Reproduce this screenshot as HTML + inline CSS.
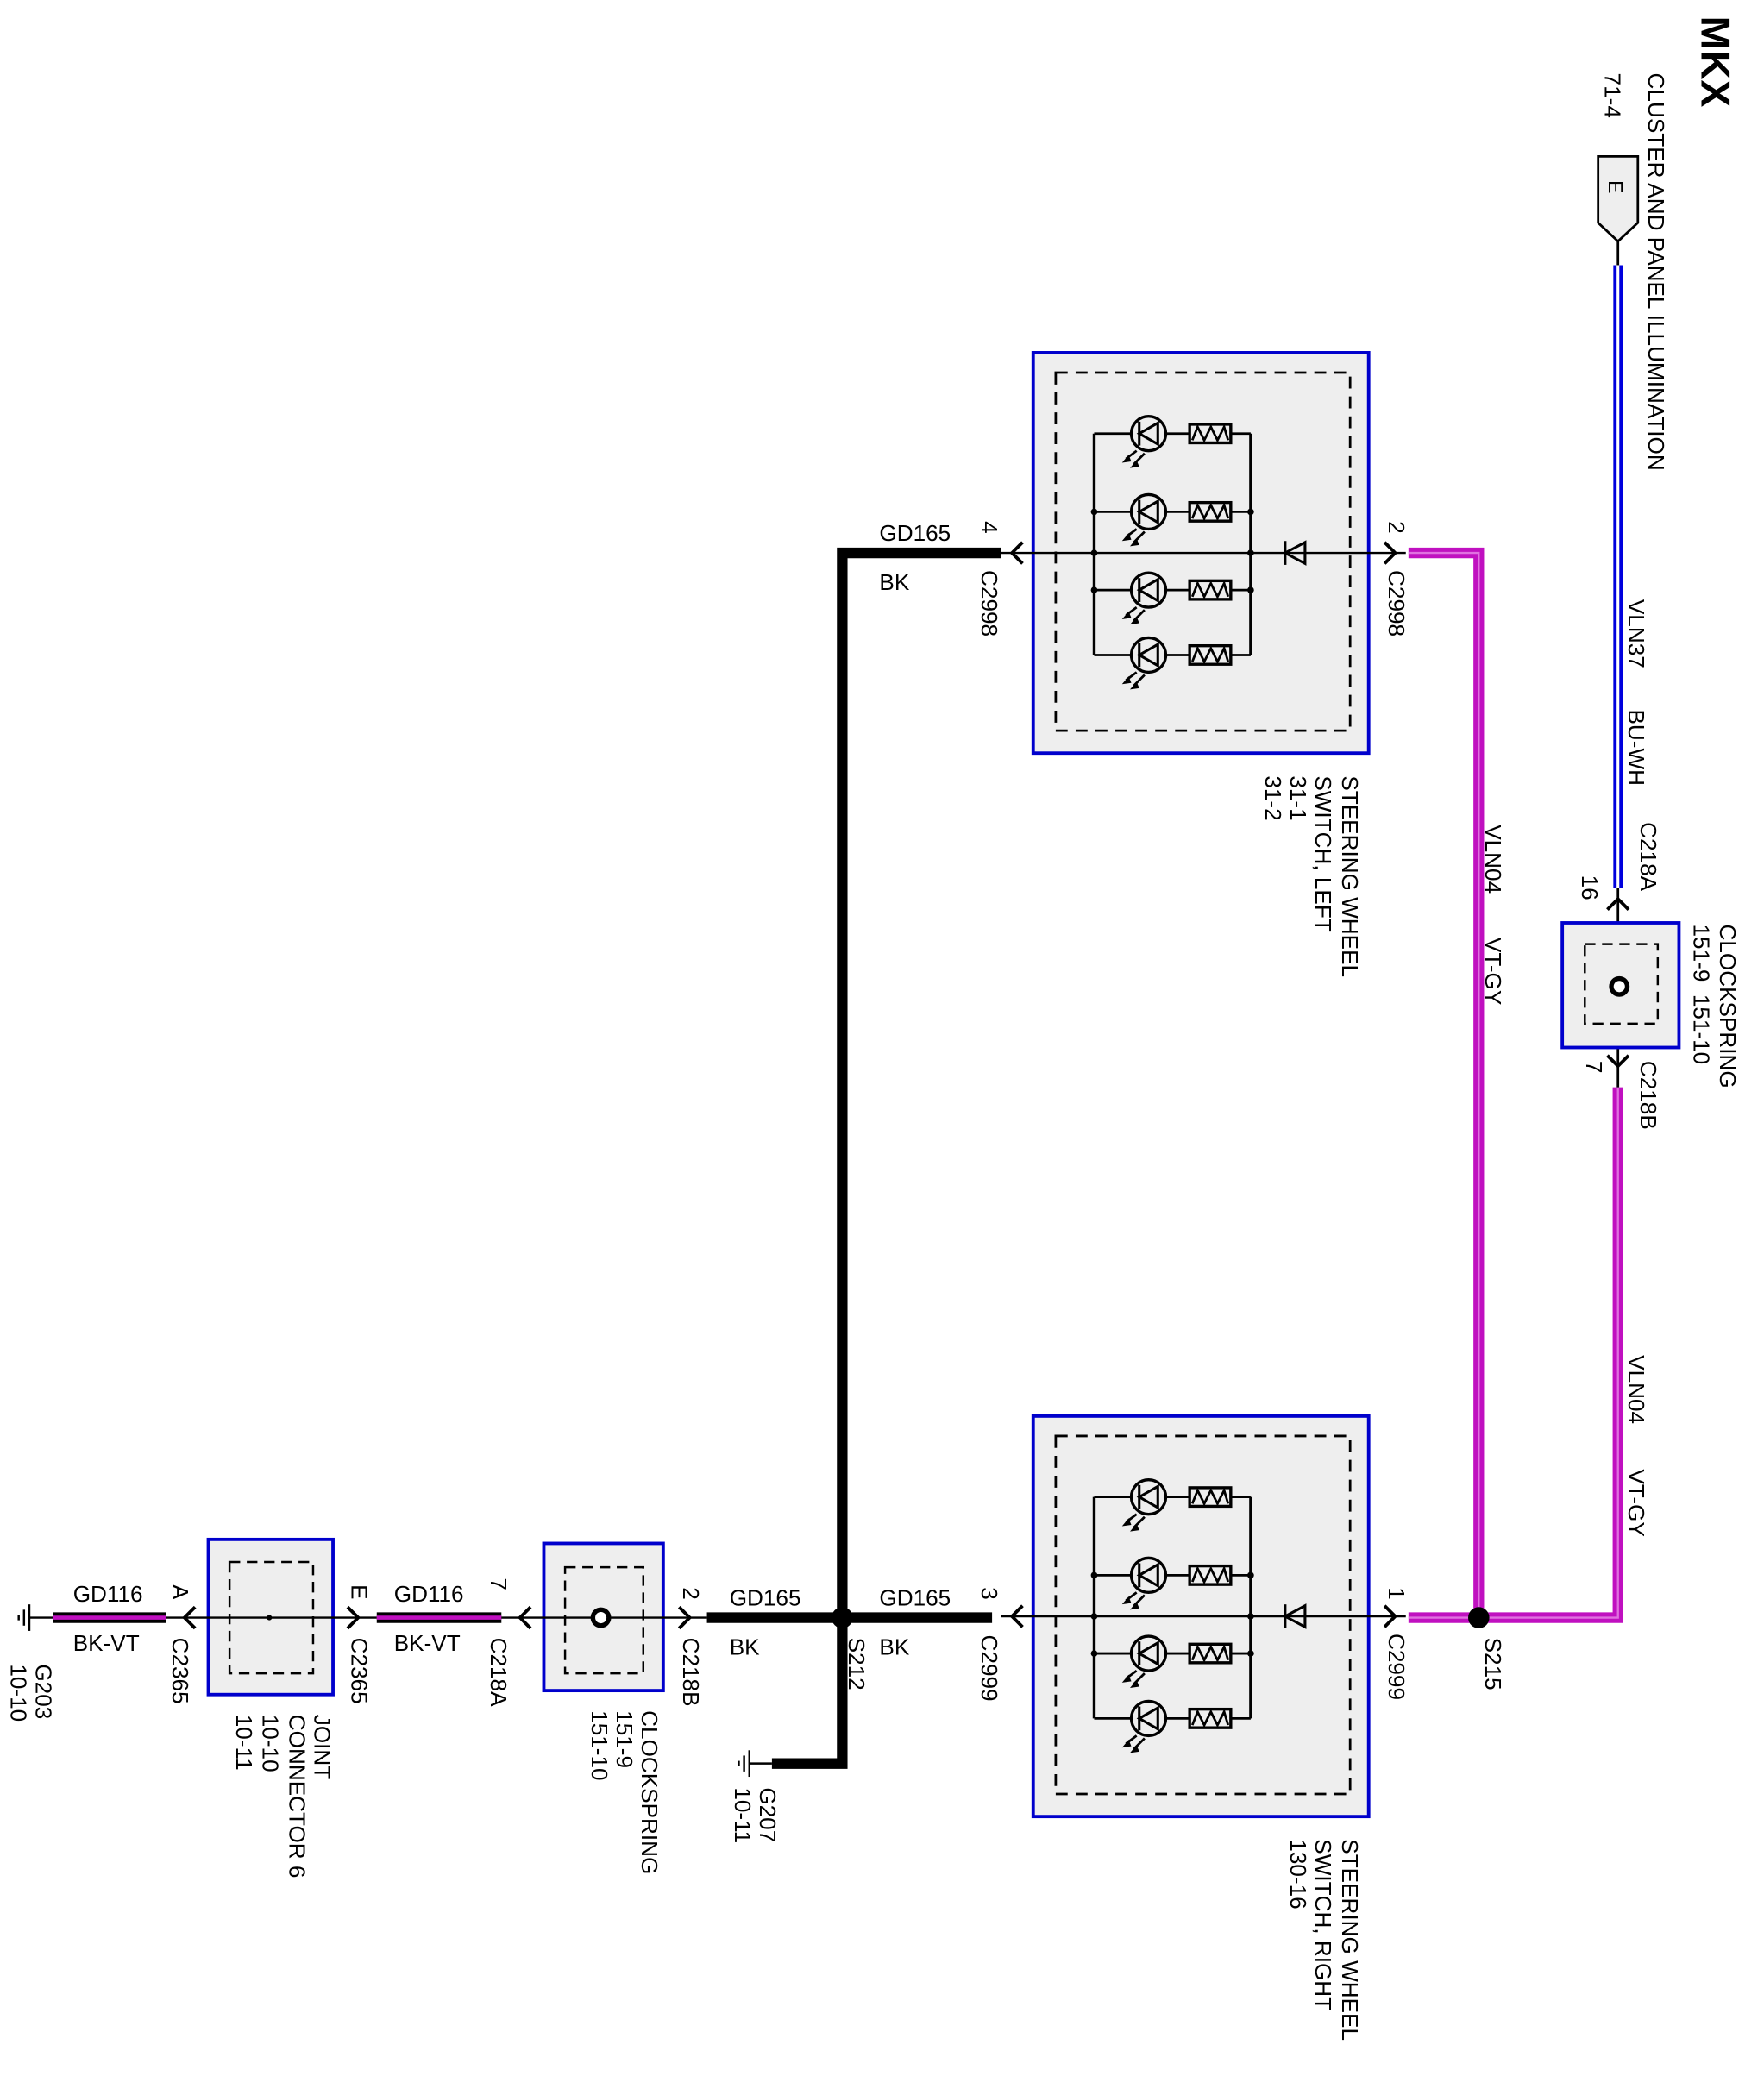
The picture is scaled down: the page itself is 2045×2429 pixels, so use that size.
<!DOCTYPE html>
<html><head><meta charset="utf-8"><style>
html,body{margin:0;padding:0;background:#fff}
svg{display:block}
text{font-family:"Liberation Sans",sans-serif;font-size:17px;fill:#000}
</style></head><body>
<svg width="2045" height="2429" viewBox="0 0 1330 1580" xmlns="http://www.w3.org/2000/svg">
<defs>
<g id="lamp">
  <line x1="0" y1="0" x2="118" y2="0" stroke="#000" stroke-width="1.8"/>
  <circle cx="41" cy="0" r="13" fill="#eee" stroke="#000" stroke-width="2.2"/>
  <polygon points="34,0 48,-8 48,8" fill="none" stroke="#000" stroke-width="2"/>
  <line x1="34" y1="-9" x2="34" y2="9" stroke="#000" stroke-width="2"/>
  <line x1="32" y1="13" x2="24" y2="19" stroke="#000" stroke-width="1.8"/>
  <line x1="38" y1="15" x2="30" y2="23" stroke="#000" stroke-width="1.8"/>
  <polygon points="21,22 26,16 28,21" fill="#000"/>
  <polygon points="27,26 32,20 34,25" fill="#000"/>
  <rect x="72" y="-7" width="31" height="14" fill="#eee" stroke="#000" stroke-width="2.2"/>
  <polyline points="74,5 78,-5 83,5 88,-5 93,5 98,-5 101,5" fill="none" stroke="#000" stroke-width="1.8"/>
</g>
<g id="sw">
  <rect x="0" y="0" width="253" height="302" fill="#eee" stroke="#0000cc" stroke-width="2.5"/>
  <rect x="17" y="15" width="222" height="270" fill="none" stroke="#000" stroke-width="1.8" stroke-dasharray="9,6"/>
  <line x1="-24" y1="151" x2="281" y2="151" stroke="#000" stroke-width="1.6"/>
  <line x1="46" y1="61" x2="46" y2="228" stroke="#000" stroke-width="2.2"/>
  <line x1="164" y1="61" x2="164" y2="228" stroke="#000" stroke-width="2.2"/>
  <use href="#lamp" transform="translate(46,61)"/>
  <use href="#lamp" transform="translate(46,120)"/>
  <use href="#lamp" transform="translate(46,179)"/>
  <use href="#lamp" transform="translate(46,228)"/>
  <circle cx="46" cy="120" r="2.5" fill="#000"/><circle cx="46" cy="151" r="2.5" fill="#000"/><circle cx="46" cy="179" r="2.5" fill="#000"/>
  <circle cx="164" cy="120" r="2.5" fill="#000"/><circle cx="164" cy="151" r="2.5" fill="#000"/><circle cx="164" cy="179" r="2.5" fill="#000"/>
  <polygon points="190,151 205,143 205,159" fill="none" stroke="#000" stroke-width="2"/>
  <line x1="190" y1="142" x2="190" y2="160" stroke="#000" stroke-width="2"/>
  <polyline points="-8,143 -16,151 -8,159" fill="none" stroke="#000" stroke-width="2.5"/>
  <polyline points="265,143 273,151 265,159" fill="none" stroke="#000" stroke-width="2.5"/>
</g>
<g id="gnd">
  <line x1="0" y1="-10" x2="0" y2="10" stroke="#000" stroke-width="1.6"/>
  <line x1="-4" y1="-6" x2="-4" y2="6" stroke="#000" stroke-width="1.6"/>
  <line x1="-8" y1="-2" x2="-8" y2="2" stroke="#000" stroke-width="1.6"/>
</g>
</defs>

<polyline points="755,417 635,417 635,1330 582,1330" fill="none" stroke="#000" stroke-width="8"/>
<line x1="533" y1="1220" x2="748" y2="1220" stroke="#000" stroke-width="8"/>
<line x1="565" y1="1330" x2="582" y2="1330" stroke="#000" stroke-width="1.6"/>
<use href="#gnd" transform="translate(565,1330)"/>

<polyline points="1062,417 1115,417 1115,1220" fill="none" stroke="#c010c0" stroke-width="8"/>
<polyline points="1062,417 1115,417 1115,1220" fill="none" stroke="#e070e0" stroke-width="1.5"/>
<polyline points="1062,1220 1220,1220 1220,820" fill="none" stroke="#c010c0" stroke-width="8"/>
<polyline points="1062,1220 1220,1220 1220,820" fill="none" stroke="#e070e0" stroke-width="1.5"/>
<line x1="1220" y1="200" x2="1220" y2="670" stroke="#0000dd" stroke-width="7"/>
<line x1="1220" y1="200" x2="1220" y2="670" stroke="#fff" stroke-width="2"/>
<line x1="1220" y1="182" x2="1220" y2="200" stroke="#000" stroke-width="1.8"/>
<line x1="1220" y1="670" x2="1220" y2="820" stroke="#000" stroke-width="1.8"/>

<polygon points="1205,118 1235,118 1235,168 1220,182 1205,168" fill="#eee" stroke="#000" stroke-width="1.8"/>
<text transform="translate(1213,136) rotate(90)" style="font-size:15px">E</text>

<rect x="1178" y="696" width="88" height="94" fill="#eee" stroke="#0000cc" stroke-width="2.5"/>
<rect x="1195" y="712" width="55" height="60" fill="none" stroke="#000" stroke-width="1.6" stroke-dasharray="8,5"/>
<circle cx="1221" cy="744" r="6" fill="#fff" stroke="#000" stroke-width="3.5"/>
<polyline points="1212,686 1220,678 1228,686" fill="none" stroke="#000" stroke-width="2.5"/>
<polyline points="1212,796 1220,804 1228,796" fill="none" stroke="#000" stroke-width="2.5"/>

<use href="#sw" transform="translate(779,266)"/>
<use href="#sw" transform="translate(779,1068)"/>

<circle cx="635" cy="1220" r="8" fill="#000"/>
<circle cx="1115" cy="1220" r="8" fill="#000"/>

<line x1="22" y1="1220" x2="40" y2="1220" stroke="#000" stroke-width="1.6"/>
<use href="#gnd" transform="translate(22,1220)"/>
<line x1="40" y1="1220" x2="125" y2="1220" stroke="#000" stroke-width="8"/>
<line x1="40" y1="1220" x2="125" y2="1220" stroke="#c010c0" stroke-width="3"/>
<rect x="157" y="1161" width="94" height="117" fill="#eee" stroke="#0000cc" stroke-width="2.5"/>
<rect x="173" y="1178" width="63" height="84" fill="none" stroke="#000" stroke-width="1.6" stroke-dasharray="8,5"/>
<line x1="125" y1="1220" x2="284" y2="1220" stroke="#000" stroke-width="1.6"/>
<circle cx="203" cy="1220" r="2" fill="#000"/>
<polyline points="147,1212 139,1220 147,1228" fill="none" stroke="#000" stroke-width="2.5"/>
<polyline points="262,1212 270,1220 262,1228" fill="none" stroke="#000" stroke-width="2.5"/>
<line x1="284" y1="1220" x2="378" y2="1220" stroke="#000" stroke-width="8"/>
<line x1="284" y1="1220" x2="378" y2="1220" stroke="#c010c0" stroke-width="3"/>
<rect x="410" y="1164" width="90" height="111" fill="#eee" stroke="#0000cc" stroke-width="2.5"/>
<rect x="426" y="1182" width="59" height="80" fill="none" stroke="#000" stroke-width="1.6" stroke-dasharray="8,5"/>
<line x1="378" y1="1220" x2="533" y2="1220" stroke="#000" stroke-width="1.6"/>
<circle cx="453" cy="1220" r="6" fill="#fff" stroke="#000" stroke-width="3.5"/>
<polyline points="400,1212 392,1220 400,1228" fill="none" stroke="#000" stroke-width="2.5"/>
<polyline points="512,1212 520,1220 512,1228" fill="none" stroke="#000" stroke-width="2.5"/>

<text x="663" y="408">GD165</text><text x="663" y="445">BK</text>
<text x="550" y="1211">GD165</text><text x="550" y="1248">BK</text>
<text x="663" y="1211">GD165</text><text x="663" y="1248">BK</text>
<text x="55" y="1208">GD116</text><text x="55" y="1245">BK-VT</text>
<text x="297" y="1208">GD116</text><text x="297" y="1245">BK-VT</text>

<g>
<text transform="translate(1283,12) rotate(90)" style="font-size:31px;font-weight:bold">MKX</text>
<text transform="translate(1243,55) rotate(90)">CLUSTER AND PANEL ILLUMINATION</text>
<text transform="translate(1210,55) rotate(90)">71-4</text>
<text transform="translate(1228,452) rotate(90)">VLN37</text>
<text transform="translate(1228,535) rotate(90)">BU-WH</text>
<text transform="translate(1237,620) rotate(90)">C218A</text>
<text transform="translate(1193,660) rotate(90)">16</text>
<text transform="translate(1297,697) rotate(90)">CLOCKSPRING</text>
<text transform="translate(1277,697) rotate(90)">151-9&#160;&#160;151-10</text>
<text transform="translate(1196,800) rotate(90)">7</text>
<text transform="translate(1237,800) rotate(90)">C218B</text>
<text transform="translate(1120,622) rotate(90)">VLN04</text>
<text transform="translate(1120,707) rotate(90)">VT-GY</text>
<text transform="translate(1228,1022) rotate(90)">VLN04</text>
<text transform="translate(1228,1108) rotate(90)">VT-GY</text>
<text transform="translate(1120,1235) rotate(90)">S215</text>
<text transform="translate(1047,393) rotate(90)">2</text>
<text transform="translate(1047,430) rotate(90)">C2998</text>
<text transform="translate(1047,1197) rotate(90)">1</text>
<text transform="translate(1047,1232) rotate(90)">C2999</text>
<text transform="translate(740,1197) rotate(90)">3</text>
<text transform="translate(740,1233) rotate(90)">C2999</text>
<text transform="translate(740,393) rotate(90)">4</text>
<text transform="translate(740,430) rotate(90)">C2998</text>
<text transform="translate(1012,585) rotate(90)">STEERING WHEEL</text>
<text transform="translate(992,585) rotate(90)">SWITCH, LEFT</text>
<text transform="translate(973,585) rotate(90)">31-1</text>
<text transform="translate(954,585) rotate(90)">31-2</text>
<text transform="translate(1012,1387) rotate(90)">STEERING WHEEL</text>
<text transform="translate(992,1387) rotate(90)">SWITCH, RIGHT</text>
<text transform="translate(973,1387) rotate(90)">130-16</text>
<text transform="translate(640,1235) rotate(90)">S212</text>
<text transform="translate(573,1348) rotate(90)">G207</text>
<text transform="translate(554,1348) rotate(90)">10-11</text>
<text transform="translate(515,1197) rotate(90)">2</text>
<text transform="translate(515,1235) rotate(90)">C218B</text>
<text transform="translate(484,1290) rotate(90)">CLOCKSPRING</text>
<text transform="translate(465,1290) rotate(90)">151-9</text>
<text transform="translate(446,1290) rotate(90)">151-10</text>
<text transform="translate(370,1190) rotate(90)">7</text>
<text transform="translate(370,1235) rotate(90)">C218A</text>
<text transform="translate(265,1195) rotate(90)">E</text>
<text transform="translate(265,1235) rotate(90)">C2365</text>
<text transform="translate(237,1293) rotate(90)">JOINT</text>
<text transform="translate(218,1293) rotate(90)">CONNECTOR 6</text>
<text transform="translate(198,1293) rotate(90)">10-10</text>
<text transform="translate(178,1293) rotate(90)">10-11</text>
<text transform="translate(130,1195) rotate(90)">A</text>
<text transform="translate(130,1235) rotate(90)">C2365</text>
<text transform="translate(27,1255) rotate(90)">G203</text>
<text transform="translate(8,1255) rotate(90)">10-10</text>
</g>
</svg>
</body></html>
